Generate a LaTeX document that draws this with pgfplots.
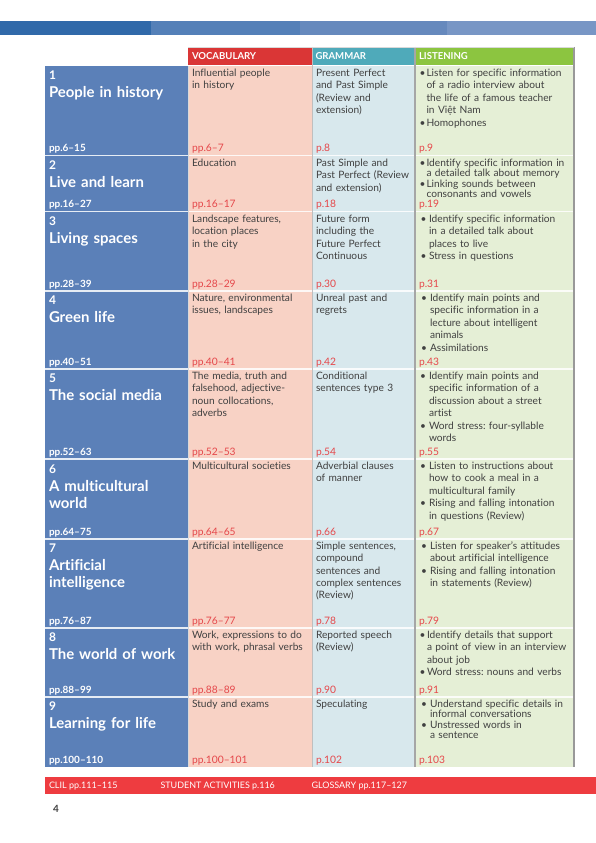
\documentclass[border=0pt]{standalone}
\usepackage{pgfplots}
\pgfplotsset{compat=1.18}
\usepackage{fontspec}
\setmainfont{Lato}[Ligatures=NoCommon]
\frenchspacing
\definecolor{topA}{HTML}{3069A9}
\definecolor{topB}{HTML}{5480B8}
\definecolor{topC}{HTML}{6689BD}
\definecolor{topD}{HTML}{7896C5}
\definecolor{bluecol}{HTML}{5B80B8}
\definecolor{hred}{HTML}{DA3636}
\definecolor{hteal}{HTML}{4FAABA}
\definecolor{hgreen}{HTML}{8CC540}
\definecolor{vbg}{HTML}{F8D2C5}
\definecolor{gbg}{HTML}{D8E8ED}
\definecolor{lbg}{HTML}{E5EFD6}
\definecolor{refred}{HTML}{E5484B}
\definecolor{txt}{HTML}{404040}
\definecolor{footred}{HTML}{EE3C40}
\newcommand{\fb}{\frenchspacing\fontsize{10.2}{12.4}\selectfont}
\newcommand{\ft}{\frenchspacing\fontsize{10.2}{10.4}\selectfont}
\tikzset{
 cell/.style={anchor=base west, inner sep=0pt, outer sep=0pt, text width=150bp, align=left, text=txt, font=\fb},
 tcell/.style={cell, font=\ft},
 bul/.style={anchor=base west, inner sep=0pt, outer sep=0pt, text=txt, font=\fb},
 rf/.style={anchor=base west, inner sep=0pt, outer sep=0pt, text=refred, font=\fontsize{10.3}{11}\selectfont},
 num/.style={anchor=base west, inner sep=0pt, outer sep=0pt, text=white, font=\fontsize{12}{13}\selectfont\bfseries},
 ttl/.style={anchor=base west, inner sep=0pt, outer sep=0pt, text=white, text width=135bp, align=left, font=\fontsize{15}{17.5}\selectfont\bfseries},
 pp/.style={anchor=base west, inner sep=0pt, outer sep=0pt, text=white, font=\fontsize{10}{11}\selectfont\bfseries},
 hd/.style={anchor=base west, inner sep=0pt, outer sep=0pt, text=white, font=\fontsize{9.6}{10}\selectfont\bfseries},
 ft/.style={anchor=base west, inner sep=0pt, outer sep=0pt, text=white, font=\fontsize{9}{10}\selectfont},
}
\begin{document}
\begin{tikzpicture}
\begin{axis}[hide axis, scale only axis, width=596bp, height=843bp,
  xmin=0, xmax=596, ymin=0, ymax=843, y dir=reverse, clip=false]
% page background
\addplot[fill=white, draw=none] coordinates {(0,0) (596,0) (596,843) (0,843)} -- cycle;
% top band
\addplot[fill=topA, draw=none] coordinates {(0,21) (150.5,21) (150.5,35) (0,35)} -- cycle;
\addplot[fill=topB, draw=none] coordinates {(150.5,21) (299.5,21) (299.5,35) (150.5,35)} -- cycle;
\addplot[fill=topC, draw=none] coordinates {(299.5,21) (447,21) (447,35) (299.5,35)} -- cycle;
\addplot[fill=topD, draw=none] coordinates {(447,21) (596,21) (596,35) (447,35)} -- cycle;
% header
\addplot[fill=hred, draw=none] coordinates {(188,47) (312,47) (312,65) (188,65)} -- cycle;
\addplot[fill=hteal, draw=none] coordinates {(312,47) (415,47) (415,65) (312,65)} -- cycle;
\addplot[fill=hgreen, draw=none] coordinates {(415,47) (574,47) (574,65) (415,65)} -- cycle;
% columns
\addplot[fill=bluecol, draw=none] coordinates {(45,66) (188,66) (188,767) (45,767)} -- cycle;
\addplot[fill=vbg, draw=none] coordinates {(188,66) (312,66) (312,767) (188,767)} -- cycle;
\addplot[fill=gbg, draw=none] coordinates {(312,66) (415,66) (415,767) (312,767)} -- cycle;
\addplot[fill=lbg, draw=none] coordinates {(415,66) (574,66) (574,767) (415,767)} -- cycle;
% separators
\addplot[white, line width=1.3pt] coordinates {(45,65.5) (574,65.5)};
\addplot[white, line width=1.1pt, opacity=0.85] coordinates {(45,155.7) (574,155.7)};
\addplot[white, line width=1.1pt, opacity=0.85] coordinates {(45,211.7) (574,211.7)};
\addplot[white, line width=1.1pt, opacity=0.85] coordinates {(45,291) (574,291)};
\addplot[white, line width=1.1pt, opacity=0.85] coordinates {(45,369) (574,369)};
\addplot[white, line width=1.1pt, opacity=0.85] coordinates {(45,459) (574,459)};
\addplot[white, line width=1.1pt, opacity=0.85] coordinates {(45,539) (574,539)};
\addplot[white, line width=1.1pt, opacity=0.85] coordinates {(45,628) (574,628)};
\addplot[white, line width=1.1pt, opacity=0.85] coordinates {(45,697) (574,697)};
\addplot[color=white!70!gray, line width=0.6pt] coordinates {(188,66) (188,767)};
\addplot[color=gray!50, line width=0.8pt] coordinates {(312,47) (312,767)};
\addplot[color=gray!70, line width=1.1pt] coordinates {(415,47) (415,767)};
\addplot[color=gray!80, line width=1.4pt] coordinates {(574,47) (574,767)};
\addplot[color=gray!30, line width=0.6pt] coordinates {(188,47) (574,47)};
% footer
\addplot[fill=footred, draw=none] coordinates {(45,777) (596,777) (596,794) (45,794)} -- cycle;

% header text
\node[hd] at (axis cs:192,59.5) {VOCABULARY};
\node[hd] at (axis cs:315.5,59.5) {GRAMMAR};
\node[hd] at (axis cs:419,59.5) {LISTENING};

% ---------- Row 1
\node[num] at (axis cs:49,79.5) {1};
\node[ttl] at (axis cs:49,97.5) {People in history};
\node[pp] at (axis cs:49,152) {pp.6–15};
\node[cell] at (axis cs:192,76.5) {Influential people\\in history};
\node[cell] at (axis cs:316,76.5) {Present Perfect\\and Past Simple\\(Review and\\extension)};
\node[bul] at (axis cs:419.5,76.5) {•};
\node[cell] at (axis cs:426.5,76.5) {Listen for specific information\\of a radio interview about\\the life of a famous teacher\\in Việt Nam};
\node[bul] at (axis cs:419.5,126.1) {•};
\node[cell] at (axis cs:426.5,126.1) {Homophones};
\node[rf] at (axis cs:192,152) {pp.6–7};
\node[rf] at (axis cs:316,152) {p.8};
\node[rf] at (axis cs:419,152) {p.9};

% ---------- Row 2
\node[num] at (axis cs:49,169.5) {2};
\node[ttl] at (axis cs:49,187.5) {Live and learn};
\node[pp] at (axis cs:49,208) {pp.16–27};
\node[cell] at (axis cs:192,166.5) {Education};
\node[cell] at (axis cs:316,166.5) {Past Simple and\\Past Perfect (Review\\and extension)};
\node[bul] at (axis cs:419.5,166.5) {•};
\node[tcell] at (axis cs:426.5,166.5) {Identify specific information in\\a detailed talk about memory};
\node[bul] at (axis cs:419.5,187.5) {•};
\node[tcell] at (axis cs:426.5,187.5) {Linking sounds between\\consonants and vowels};
\node[rf] at (axis cs:192,208) {pp.16–17};
\node[rf] at (axis cs:316,208) {p.18};
\node[rf] at (axis cs:419,208) {p.19};

% ---------- Row 3
\node[num] at (axis cs:49,225.5) {3};
\node[ttl] at (axis cs:49,243.5) {Living spaces};
\node[pp] at (axis cs:49,287.5) {pp.28–39};
\node[cell] at (axis cs:192,222.5) {Landscape features,\\location places\\in the city};
\node[cell] at (axis cs:316,222.5) {Future form\\including the\\Future Perfect\\Continuous};
\node[bul] at (axis cs:420.5,222.5) {•};
\node[cell] at (axis cs:429,222.5) {Identify specific information\\in a detailed talk about\\places to live};
\node[bul] at (axis cs:420.5,259.7) {•};
\node[cell] at (axis cs:429,259.7) {Stress in questions};
\node[rf] at (axis cs:192,287.5) {pp.28–29};
\node[rf] at (axis cs:316,287.5) {p.30};
\node[rf] at (axis cs:419,287.5) {p.31};

% ---------- Row 4
\node[num] at (axis cs:49,304.5) {4};
\node[ttl] at (axis cs:49,322.5) {Green life};
\node[pp] at (axis cs:49,365.5) {pp.40–51};
\node[cell] at (axis cs:192,301.5) {Nature, environmental\\issues, landscapes};
\node[cell] at (axis cs:316,301.5) {Unreal past and\\regrets};
\node[bul] at (axis cs:421,301.5) {•};
\node[cell] at (axis cs:430,301.5) {Identify main points and\\specific information in a\\lecture about intelligent\\animals};
\node[bul] at (axis cs:421,351.1) {•};
\node[cell] at (axis cs:430,351.1) {Assimilations};
\node[rf] at (axis cs:192,365.5) {pp.40–41};
\node[rf] at (axis cs:316,365.5) {p.42};
\node[rf] at (axis cs:419,365.5) {p.43};

% ---------- Row 5
\node[num] at (axis cs:49,382.5) {5};
\node[ttl] at (axis cs:49,400.5) {The social media};
\node[pp] at (axis cs:49,455.5) {pp.52–63};
\node[cell] at (axis cs:192,379.5) {The media, truth and\\falsehood, adjective-\\noun collocations,\\adverbs};
\node[cell] at (axis cs:316,379.5) {Conditional\\sentences type 3};
\node[bul] at (axis cs:420,379.5) {•};
\node[cell] at (axis cs:429,379.5) {Identify main points and\\specific information of a\\discussion about a street\\artist};
\node[bul] at (axis cs:420,429.1) {•};
\node[cell] at (axis cs:429,429.1) {Word stress: four-syllable\\words};
\node[rf] at (axis cs:192,455.5) {pp.52–53};
\node[rf] at (axis cs:316,455.5) {p.54};
\node[rf] at (axis cs:419,455.5) {p.55};

% ---------- Row 6
\node[num] at (axis cs:49,473) {6};
\node[ttl] at (axis cs:49,491) {A multicultural\\world};
\node[pp] at (axis cs:49,535.5) {pp.64–75};
\node[cell] at (axis cs:192,469.5) {Multicultural societies};
\node[cell] at (axis cs:316,469.5) {Adverbial clauses\\of manner};
\node[bul] at (axis cs:420,469.5) {•};
\node[cell] at (axis cs:429,469.5) {Listen to instructions about\\how to cook a meal in a\\multicultural family};
\node[bul] at (axis cs:420,506.7) {•};
\node[cell] at (axis cs:429,506.7) {Rising and falling intonation\\in questions (Review)};
\node[rf] at (axis cs:192,535.5) {pp.64–65};
\node[rf] at (axis cs:316,535.5) {p.66};
\node[rf] at (axis cs:419,535.5) {p.67};

% ---------- Row 7
\node[num] at (axis cs:49,552.5) {7};
\node[ttl] at (axis cs:49,570.5) {Artificial\\intelligence};
\node[pp] at (axis cs:49,624.5) {pp.76–87};
\node[cell] at (axis cs:192,549.5) {Artificial intelligence};
\node[cell] at (axis cs:316,549.5) {Simple sentences,\\compound\\sentences and\\complex sentences\\(Review)};
\node[bul] at (axis cs:421,549.5) {•};
\node[cell] at (axis cs:430,549.5) {Listen for speaker's attitudes\\about artificial intelligence};
\node[bul] at (axis cs:421,574.3) {•};
\node[cell] at (axis cs:430,574.3) {Rising and falling intonation\\in statements (Review)};
\node[rf] at (axis cs:192,624.5) {pp.76–77};
\node[rf] at (axis cs:316,624.5) {p.78};
\node[rf] at (axis cs:419,624.5) {p.79};

% ---------- Row 8
\node[num] at (axis cs:49,641.5) {8};
\node[ttl] at (axis cs:49,659.5) {The world of work};
\node[pp] at (axis cs:49,693.5) {pp.88–99};
\node[cell] at (axis cs:192,638.5) {Work, expressions to do\\with work, phrasal verbs};
\node[cell] at (axis cs:316,638.5) {Reported speech\\(Review)};
\node[bul] at (axis cs:419.5,638.5) {•};
\node[cell] at (axis cs:427,638.5) {Identify details that support\\a point of view in an interview\\about job};
\node[bul] at (axis cs:419.5,675.7) {•};
\node[cell] at (axis cs:427,675.7) {Word stress: nouns and verbs};
\node[rf] at (axis cs:192,693.5) {pp.88–89};
\node[rf] at (axis cs:316,693.5) {p.90};
\node[rf] at (axis cs:419,693.5) {p.91};

% ---------- Row 9
\node[num] at (axis cs:49,710.5) {9};
\node[ttl] at (axis cs:49,728.5) {Learning for life};
\node[pp] at (axis cs:49,763.5) {pp.100–110};
\node[cell] at (axis cs:192,707.5) {Study and exams};
\node[cell] at (axis cs:316,707.5) {Speculating};
\node[bul] at (axis cs:421,707.5) {•};
\node[tcell] at (axis cs:430,707.5) {Understand specific details in\\informal conversations};
\node[bul] at (axis cs:421,728) {•};
\node[tcell] at (axis cs:430,728) {Unstressed words in\\a sentence};
\node[rf] at (axis cs:192,763.5) {pp.100–101};
\node[rf] at (axis cs:316,763.5) {p.102};
\node[rf] at (axis cs:419,763.5) {p.103};

% footer text
\node[ft] at (axis cs:49,788.5) {CLIL pp.111–115};
\node[ft] at (axis cs:160.5,788.5) {STUDENT ACTIVITIES p.116};
\node[ft] at (axis cs:311.5,788.5) {GLOSSARY pp.117–127};
\node[anchor=base west, inner sep=0pt, text=txt, font=\fontsize{10}{11}\selectfont\bfseries] at (axis cs:53,812) {4};
\end{axis}
\end{tikzpicture}
\end{document}
